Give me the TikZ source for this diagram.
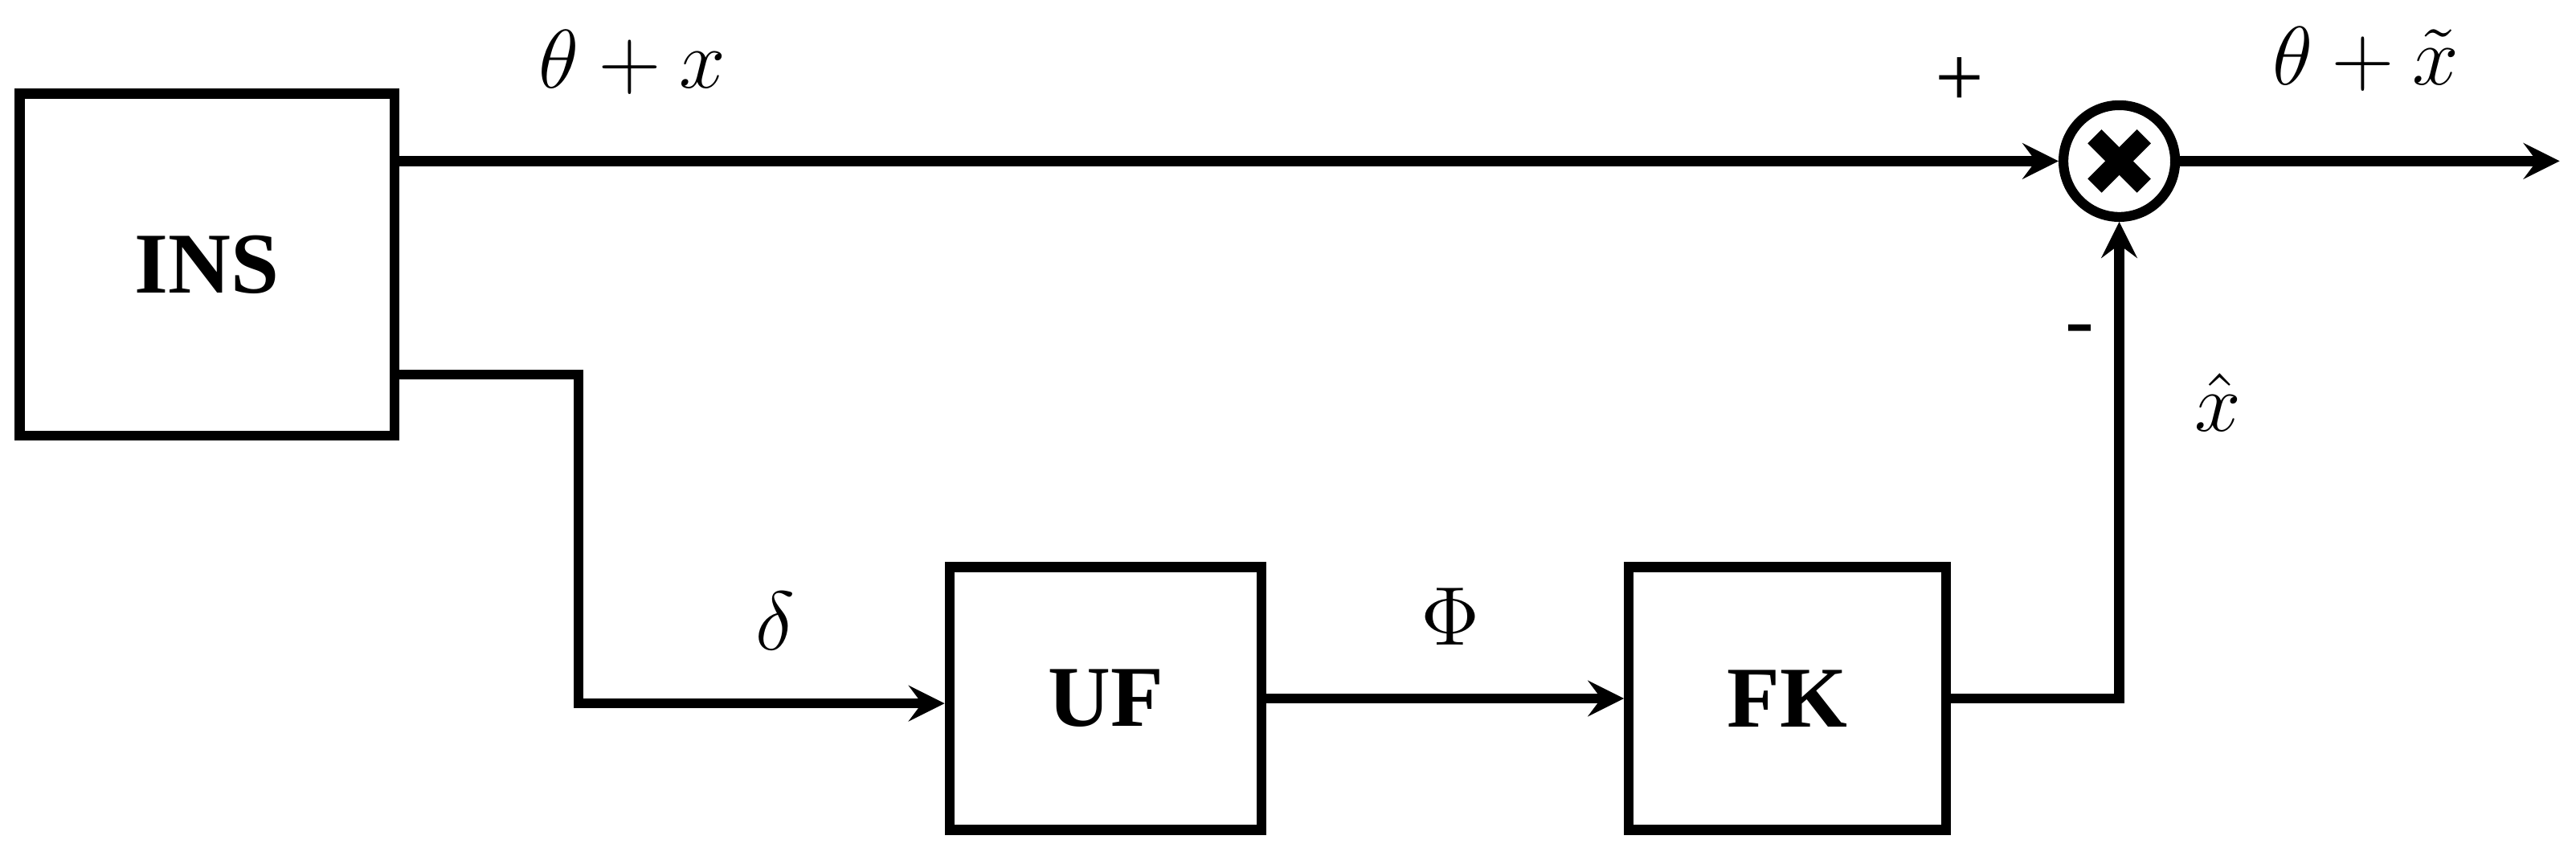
\documentclass[tikz,border=0pt]{standalone}
\usepackage{fontspec}
\setmainfont{Liberation Serif}
\usetikzlibrary{positioning}
\begin{document}
\begin{tikzpicture}[x=0.1mm,y=-0.1mm,line width=1.7pt]
  \tikzstyle{block} = [rectangle, draw=black, text centered, font=\fontsize{15}{17}\selectfont\bfseries]
  \tikzstyle{arrow} = [->,>=stealth]
  \tikzstyle{lbl} = [font=\fontsize{15}{17}\selectfont]
  \useasboundingbox (0,0) rectangle (1568,518);

  \node (ins) [block, minimum width=22.8mm, minimum height=20.8mm] at (126,161) {INS};
  \node (uf) [block, minimum width=19mm, minimum height=16mm] at (673,425) {UF};
  \node (fk) [block, minimum width=19.3mm, minimum height=16mm] at (1088,425) {FK};
  \node (sum) [circle, draw=black, minimum size=6.8mm, inner sep=0pt] at (1290,98) {};
  \draw [line width=3.4pt] ([shift={(-15,-15)}]sum.center) -- ([shift={(15,15)}]sum.center);
  \draw [line width=3.4pt] ([shift={(-15,15)}]sum.center) -- ([shift={(15,-15)}]sum.center);
  \coordinate (out) at (1558,98);

  \draw [arrow] (ins.east |- sum) -- (sum);
  \draw [arrow] (sum) -- (out);
  \draw [arrow] (ins.east |- 0,228) -| (352,428) -- (uf.west |- 0,428);
  \draw [arrow] (uf) -- (fk);
  \draw [arrow] (fk.east) -| (sum.south);

  \node [lbl] at (385,38) {$\theta + x$};
  \node [lbl] at (1193,50) {+};
  \node [lbl] at (1440,36) {$\theta + \tilde{x}$};
  \node [lbl] at (472,378) {$\delta$};
  \node [lbl] at (883,375) {$\Phi$};
  \node [lbl] at (1266,205) {-};
  \node [lbl] at (1350,245) {$\hat{x}$};
\end{tikzpicture}
\end{document}
